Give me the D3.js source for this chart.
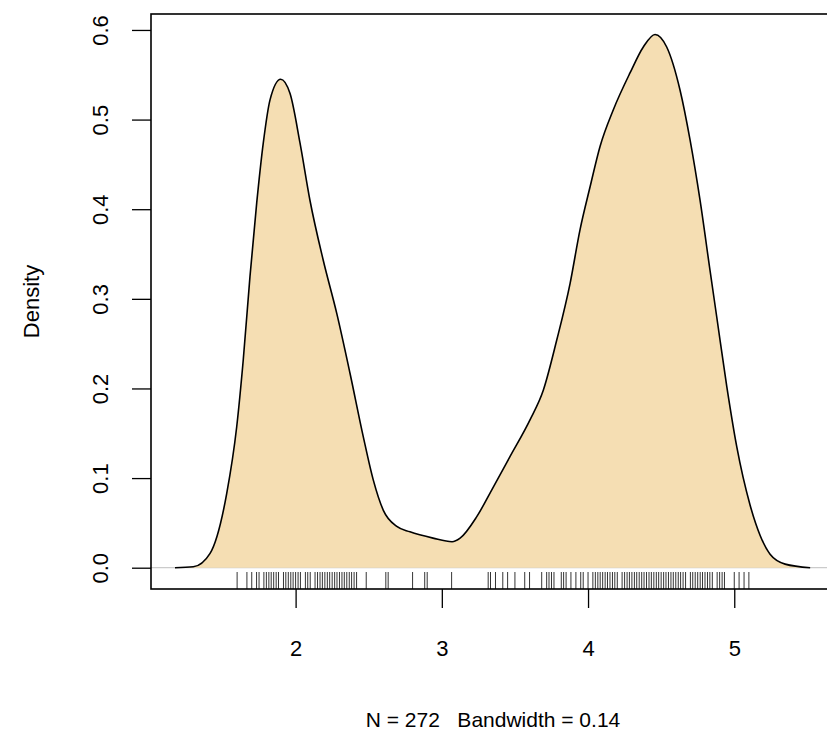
<!DOCTYPE html>
<meta charset="utf-8">
<style>
body { margin: 0; background: #fff; }
.axis text {
  font-family: "Liberation Sans", Arial, sans-serif;
  font-size: 22px;
  fill: #000;
}
.axis line { stroke: #000; stroke-width: 1.3; }
.lbl {
  font-family: "Liberation Sans", Arial, sans-serif;
  font-size: 22px;
  white-space: pre;
}
.sub { font-size: 21px; }
</style>

<div id="chart"></div>
<script src="https://d3js.org/d3.v7.min.js"></script>
<script>
// density of eruption times
var densX = [1.175, 1.300, 1.415, 1.529, 1.597, 1.642, 1.688, 1.734, 1.779, 1.825, 1.898, 1.962,
  2.030, 2.098, 2.189, 2.281, 2.372, 2.463, 2.531, 2.600, 2.692, 2.782, 2.940, 3.070, 3.125,
  3.239, 3.352, 3.466, 3.603, 3.694, 3.786, 3.877, 3.945, 4.014, 4.082, 4.173, 4.287, 4.378,
  4.458, 4.538, 4.629, 4.698, 4.766, 4.834, 4.880, 4.949, 5.017, 5.108, 5.177, 5.245, 5.348, 5.519];
var densY = [0.000, 0.001, 0.016, 0.083, 0.157, 0.232, 0.325, 0.407, 0.474, 0.522, 0.545, 0.529,
  0.474, 0.410, 0.343, 0.284, 0.217, 0.146, 0.098, 0.064, 0.046, 0.040, 0.033, 0.029, 0.033,
  0.057, 0.090, 0.124, 0.165, 0.198, 0.254, 0.317, 0.377, 0.425, 0.470, 0.511, 0.552, 0.581,
  0.595, 0.581, 0.533, 0.477, 0.410, 0.332, 0.280, 0.202, 0.135, 0.070, 0.036, 0.015, 0.004, 0.000];

// distinct observed values shown in the rug
var rugVals = [1.600, 1.667, 1.700, 1.733, 1.750, 1.783, 1.800, 1.817, 1.833, 1.850, 1.867, 1.883,
  1.917, 1.933, 1.950, 1.967, 1.983, 2.000, 2.017, 2.033, 2.067, 2.083, 2.100, 2.133, 2.150,
  2.167, 2.183, 2.200, 2.217, 2.233, 2.250, 2.267, 2.283, 2.300, 2.317, 2.333, 2.350, 2.367,
  2.383, 2.400, 2.417, 2.483, 2.617, 2.633, 2.800, 2.883, 2.900, 3.067,
  3.317, 3.333, 3.367, 3.417, 3.450, 3.500, 3.567, 3.600, 3.683, 3.717, 3.733, 3.750, 3.767,
  3.817, 3.833, 3.850, 3.883, 3.917, 3.950, 3.967, 4.000, 4.033, 4.050, 4.067, 4.083, 4.100,
  4.117, 4.133, 4.150, 4.167, 4.183, 4.200, 4.233, 4.250, 4.267, 4.283, 4.300, 4.317, 4.333,
  4.350, 4.367, 4.383, 4.400, 4.417, 4.433, 4.450, 4.467, 4.483, 4.500, 4.517, 4.533, 4.550,
  4.567, 4.583, 4.600, 4.617, 4.633, 4.650, 4.667, 4.700, 4.716, 4.733, 4.750, 4.767, 4.783,
  4.800, 4.817, 4.833, 4.850, 4.883, 4.900, 4.917, 4.933, 5.000, 5.033, 5.067, 5.100];

var xTicks = [2, 3, 4, 5];
var yTicks = [0, 0.1, 0.2, 0.3, 0.4, 0.5, 0.6];
var yTitle = "Density";
var xTitle = "N = 272   Bandwidth = 0.14";

var w = 827, h = 734,
  padL = 151, padT = 14, padR = 835, padB = 589;

var svg = d3.select("#chart").append("svg")
  .attr("width", w)
  .attr("height", h);

var x = d3.scaleLinear().domain([1.011, 5.689]).range([padL, padR]),
  y = d3.scaleLinear().domain([-0.02376, 0.6178]).range([padB, padT]);

var pts = densX.map(function (d, i) { return [d, densY[i]]; });

// zero line
svg.append("line")
  .attr("x1", padL).attr("x2", padR)
  .attr("y1", y(0)).attr("y2", y(0))
  .attr("stroke", "#bebebe")
  .attr("stroke-width", 1);

// filled density
svg.append("path")
  .datum(pts)
  .attr("fill", "#F5DEB3")
  .attr("stroke", "#000")
  .attr("stroke-width", 1.6)
  .attr("d", d3.line()
    .x(function (d) { return x(d[0]); })
    .y(function (d) { return y(d[1]); })
    .curve(d3.curveMonotoneX));

// rug
svg.selectAll(".rug")
  .data(rugVals)
  .enter().append("line")
  .attr("class", "rug")
  .attr("x1", function (d) { return x(d); })
  .attr("x2", function (d) { return x(d); })
  .attr("y1", padB)
  .attr("y2", padB - 17)
  .attr("stroke", "#000")
  .attr("stroke-width", 0.8);

// box
svg.append("rect")
  .attr("x", padL).attr("y", padT)
  .attr("width", padR - padL).attr("height", padB - padT)
  .attr("fill", "none")
  .attr("stroke", "#000")
  .attr("stroke-width", 1.6);

var xAxis = svg.append("g")
  .attr("class", "axis")
  .attr("transform", "translate(0," + padB + ")")
  .call(d3.axisBottom(x).tickValues(xTicks).tickSize(19).tickPadding(0)
    .tickFormat(d3.format("d")));
xAxis.select(".domain").remove();
xAxis.selectAll("text").attr("dy", null).attr("y", 67);

var yAxis = svg.append("g")
  .attr("class", "axis")
  .attr("transform", "translate(" + padL + ",0)")
  .call(d3.axisLeft(y).tickValues(yTicks).tickSize(19)
    .tickFormat(d3.format(".1f")));
yAxis.select(".domain").remove();
yAxis.selectAll("text")
  .attr("text-anchor", "middle")
  .attr("transform", "rotate(-90)")
  .attr("x", 0)
  .attr("dy", null)
  .attr("y", -43);

svg.append("text")
  .attr("class", "lbl")
  .attr("text-anchor", "middle")
  .attr("transform", "translate(39," + ((padT + padB) / 2) + ") rotate(-90)")
  .text(yTitle);

svg.append("text")
  .attr("class", "lbl sub")
  .attr("text-anchor", "middle")
  .attr("x", (padL + padR) / 2)
  .attr("y", 727)
  .text(xTitle);
</script>
